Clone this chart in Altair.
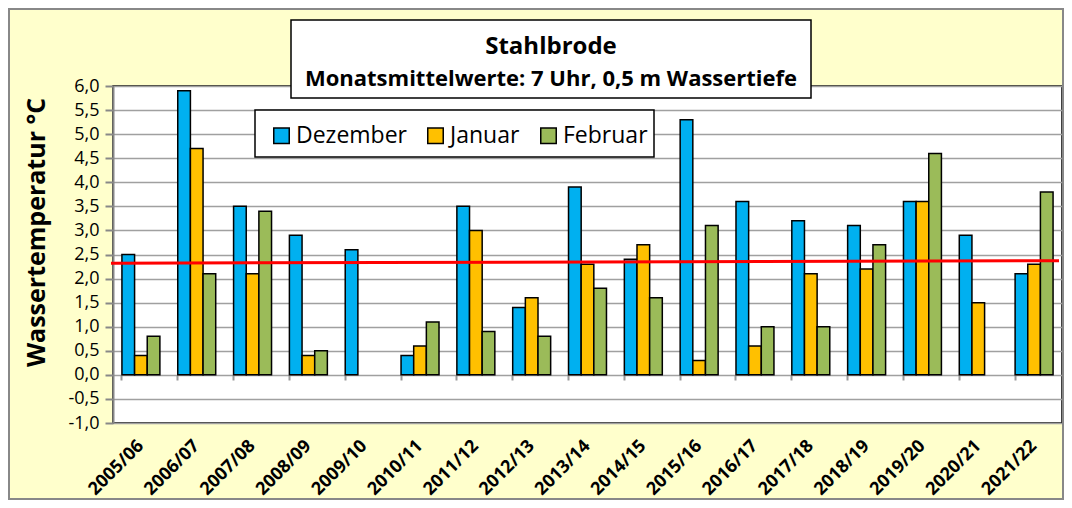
import altair as alt
import pandas as pd

# ---------------- data ----------------
seasons = ["2005/06", "2006/07", "2007/08", "2008/09", "2009/10", "2010/11",
           "2011/12", "2012/13", "2013/14", "2014/15", "2015/16", "2016/17",
           "2017/18", "2018/19", "2019/20", "2020/21", "2021/22"]
dezember = [2.5, 5.9, 3.5, 2.9, 2.6, 0.4, 3.5, 1.4, 3.9, 2.4, 5.3, 3.6, 3.2, 3.1, 3.6, 2.9, 2.1]
januar = [0.4, 4.7, 2.1, 0.4, None, 0.6, 3.0, 1.6, 2.3, 2.7, 0.3, 0.6, 2.1, 2.2, 3.6, 1.5, 2.3]
februar = [0.8, 2.1, 3.4, 0.5, None, 1.1, 0.9, 0.8, 1.8, 1.6, 3.1, 1.0, 1.0, 2.7, 4.6, None, 3.8]
months = ["Dezember", "Januar", "Februar"]
colors = ["#00B0F0", "#FFC000", "#9BBB59"]
trend = [2.32, 2.37]          # linear trend line: value at left and right end
y_ticks = [-1.0, -0.5, 0.0, 0.5, 1.0, 1.5, 2.0, 2.5, 3.0, 3.5, 4.0, 4.5, 5.0, 5.5, 6.0]
title = "Stahlbrode"
subtitle = "Monatsmittelwerte: 7 Uhr, 0,5 m Wassertiefe"
y_title = "Wassertemperatur °C"

rows = []
for i, s in enumerate(seasons):
    for m, vals in zip(months, [dezember, januar, februar]):
        if vals[i] is not None:
            rows.append({"season": s, "month": m, "value": vals[i]})
df = pd.DataFrame(rows)
dummy = pd.DataFrame({"k": [0]})

W, H = 949, 337
FONT = "Open Sans"

yscale = alt.Scale(domain=[-1, 6], nice=False, zero=False)
y_axis = alt.Axis(values=y_ticks, title=y_title, labelOverlap=False, tickCount=len(y_ticks),
                  labelExpr="replace(replace(format(datum.value, '.1f'), '.', ','), '\u2212', '-')",
                  grid=True, gridColor="#A0A0A0", gridWidth=1.5,
                  domainColor="#888888", domainWidth=2,
                  tickColor="#888888", tickWidth=2, tickSize=8,
                  labelPadding=6, labelFont=FONT, labelFontSize=18,
                  labelColor="black", titleFont=FONT, titleFontSize=25,
                  titleFontWeight="bold", titleColor="black",
                  titleAngle=270, titleX=-69, titleY=146,
                  titleAlign="center", titleBaseline="alphabetic")

bars = alt.Chart(df).mark_bar(stroke="black", strokeWidth=1.5).encode(
    x=alt.X("season:N", sort=seasons,
            scale=alt.Scale(domain=seasons, paddingInner=0.32, paddingOuter=0.16),
            axis=alt.Axis(title=None, bandPosition=0, offset=-48, domain=False,
                          ticks=True, tickSize=5, tickColor="#999999", tickWidth=2,
                          grid=False, labelAngle=315, labelAlign="right",
                          labelBaseline="middle", labelOffset=0, labelPadding=63,
                          labelOverlap=False,
                          labelFont=FONT, labelFontSize=18, labelFontWeight="bold",
                          labelColor="black")),
    xOffset=alt.XOffset("month:N", sort=months,
                        scale=alt.Scale(domain=months, paddingInner=0, paddingOuter=0)),
    y=alt.Y("value:Q", stack=None, scale=yscale, axis=y_axis),
    color=alt.Color("month:N", sort=months,
                    scale=alt.Scale(domain=months, range=colors),
                    legend=alt.Legend(orient="none", legendX=157, legendY=38,
                                      direction="horizontal", title=None, padding=0,
                                      columnPadding=17, labelOffset=3,
                                      labelFont=FONT, labelFontSize=23,
                                      labelColor="black", symbolType="square",
                                      symbolSize=240, symbolStrokeColor="black",
                                      symbolStrokeWidth=1.5, zindex=1)),
)

rule = alt.Chart(dummy).mark_rule(color="#FF0000", strokeWidth=3).encode(
    x=alt.value(-2), x2=alt.value(W - 3),
    y=alt.datum(trend[0], scale=yscale, axis=y_axis), y2=alt.datum(trend[1]),
)

outer = alt.Chart(dummy).mark_rect(fill="#FFFFCC", fillOpacity=0, stroke="#888888",
                                   strokeWidth=2).encode(
    x=alt.value(-104), x2=alt.value(W + 1), y=alt.value(-77), y2=alt.value(H + 76))

title_box = alt.Chart(dummy).mark_rect(fill="white", stroke="black", strokeWidth=1.5).encode(
    x=alt.value(178), x2=alt.value(698), y=alt.value(-66), y2=alt.value(12))

title_txt = alt.Chart(dummy).mark_text(text=title, font=FONT, fontSize=24, fontWeight="bold",
                                       align="center", baseline="alphabetic",
                                       color="black").encode(
    x=alt.value(438), y=alt.value(-32))

sub_txt = alt.Chart(dummy).mark_text(text=subtitle, font=FONT, fontSize=22, fontWeight="bold",
                                     align="center", baseline="alphabetic",
                                     color="black").encode(
    x=alt.value(438), y=alt.value(0))

legend_box = alt.Chart(dummy).mark_rect(fill="white", stroke="black", strokeWidth=1.5).encode(
    x=alt.value(142), x2=alt.value(541), y=alt.value(24), y2=alt.value(71))

chart = alt.layer(outer, bars, rule, title_box, title_txt, sub_txt, legend_box).properties(
    width=W, height=H,
    autosize=alt.AutoSizeParams(type="none"),
    padding={"left": 105, "top": 78, "right": 2, "bottom": 77},
    background="#FFFFCC",
).configure_view(fill="white", stroke="black", strokeWidth=1.5)

chart.save("out.html", embed_options={"renderer": "svg", "actions": False})
